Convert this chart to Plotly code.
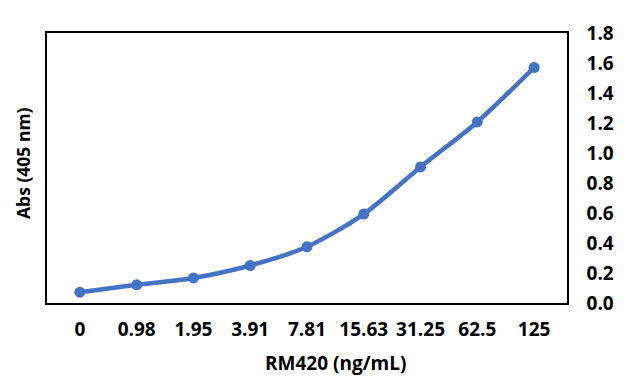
import plotly.graph_objects as go

concentrations = ["0", "0.98", "1.95", "3.91", "7.81", "15.63", "31.25", "62.5", "125"]
absorbance = [0.072, 0.121, 0.167, 0.250, 0.375, 0.593, 0.907, 1.207, 1.570]
y_ticks = [0.0, 0.2, 0.4, 0.6, 0.8, 1.0, 1.2, 1.4, 1.6, 1.8]
y_ticklabels = [f"{v:.1f}" for v in y_ticks]

FONT = "Open Sans"
BLUE = "#4472C4"

fig = go.Figure()
fig.add_trace(go.Scatter(
    x=concentrations, y=absorbance, mode="lines+markers",
    line=dict(color=BLUE, width=4.5, shape="spline", smoothing=0.8),
    marker=dict(color=BLUE, size=11),
    showlegend=False,
))

fig.update_layout(
    width=632, height=379,
    margin=dict(l=39, r=73, t=19, b=84),
    paper_bgcolor="white", plot_bgcolor="white",
    xaxis=dict(
        type="category", showgrid=False, zeroline=False,
        showline=True, mirror=True, linecolor="black", linewidth=1.5,
        ticks="", tickfont=dict(family=FONT, size=19, color="black", weight="bold"),
        ticklabelstandoff=8,
    ),
    yaxis=dict(
        side="right", range=[0, 1.8], tickvals=y_ticks, ticktext=y_ticklabels,
        showgrid=False, zeroline=False,
        showline=True, mirror=True, linecolor="black", linewidth=1.5,
        ticks="", tickfont=dict(family=FONT, size=19, color="black", weight="bold"),
        ticklabelstandoff=14,
    ),
    annotations=[
        dict(text="Abs (405 nm)", xref="paper", yref="paper", x=0, y=0.5,
             xshift=-24, yshift=5,
             xanchor="center", yanchor="middle", textangle=-90, showarrow=False,
             font=dict(family=FONT, size=17.5, color="black", weight="bold")),
        dict(text="RM420 (ng/mL)", xref="paper", yref="paper", x=0.554, y=0,
             yshift=-60,
             xanchor="center", yanchor="middle", showarrow=False,
             font=dict(family=FONT, size=19, color="black", weight="bold")),
    ],
)

fig.write_html("out.html")
